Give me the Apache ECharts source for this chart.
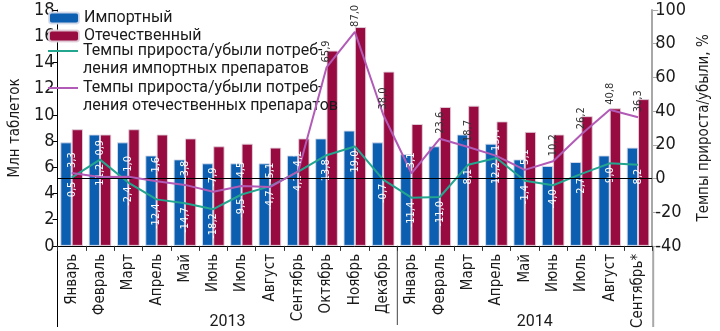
<!DOCTYPE html>
<html>
<head>
<meta charset="utf-8">
<script src="https://cdn.jsdelivr.net/npm/echarts@6/dist/echarts.min.js"></script>
<style>
  html, body { margin: 0; padding: 0; background: #fff; }
  #chart { width: 720px; height: 331px; }
</style>
</head>
<body>
<div id="chart"></div>
<script>
const categories = ['Январь','Февраль','Март','Апрель','Май','Июнь','Июль','Август','Сентябрь','Октябрь','Ноябрь','Декабрь','Январь','Февраль','Март','Апрель','Май','Июнь','Июль','Август','Сентябрь*'];
const years = ['2013', '2014'];
const yearSpans = [[0, 11], [12, 20]];
const importVals   = [7.9, 8.5, 7.9, 6.9, 6.6, 6.3, 6.3, 6.3, 6.9, 8.2, 8.8, 7.9, 7.0, 7.6, 8.5, 7.8, 6.6, 6.1, 6.4, 6.9, 7.5];
const domesticVals = [8.9, 8.5, 8.9, 8.5, 8.2, 7.6, 7.8, 7.5, 8.2, 14.9, 16.7, 13.3, 9.3, 10.6, 10.7, 9.5, 8.7, 8.5, 9.9, 10.5, 11.2];
const importGrowth   = [0.5, 11.2, -2.4, -12.4, -14.7, -18.2, -9.5, -4.7, 4.1, 13.8, 19.0, -0.7, -11.4, -11.0, 8.1, 12.2, -1.4, -4.0, 2.7, 9.0, 8.2];
const domesticGrowth = [3.3, 0.9, 1.0, -1.6, -3.8, -7.9, -4.5, -5.1, 4.2, 65.9, 87.0, 38.0, 3.1, 23.6, 18.7, 13.4, 5.1, 10.2, 26.2, 40.8, 36.3];
const leftTicks = {min: 0, max: 18, interval: 2};
const rightTicks = {min: -40, max: 100, interval: 20};
const names = ['Импортный', 'Отечественный',
  'Темпы прироста/убыли потреб-\nления импортных препаратов',
  'Темпы прироста/убыли потреб-\nления отечественных препаратов'];

const FONT = '"DejaVu Sans Condensed", "Roboto Condensed", Roboto, sans-serif';
const LFONT = 'Roboto, "Open Sans", sans-serif';
const BLUE = '#0c5fb0', RED = '#980b41', TEAL = '#22a68f', PURPLE = '#b25bb6', TXT = '#1a1a1a';
const fmt = v => v.toFixed(1).replace('.', ',');

const chart = echarts.init(document.getElementById('chart'), null, {renderer: 'canvas', width: 720, height: 331});

function buildOption(purpleColors, purpleLabelY, graphics) {
  const lgText = {fontSize: 16, lineHeight: 18, color: TXT, fontFamily: LFONT};
  const lgRich = {fontSize: 16, color: TXT, fontFamily: LFONT,
    rich: {t: {fontSize: 16, lineHeight: 18, color: TXT, fontFamily: LFONT}, s: {fontSize: 16, lineHeight: 18, height: 18}}};
  const twoLine = n => '{s| }\n' + n.split('\n').map(s => '{t|' + s + '}').join('\n');
  return {
    animation: false,
    backgroundColor: '#fff',
    grid: {left: 40, right: 47, top: 10, bottom: 85, containLabel: false},
    legend: [
      {data: [names[0], names[1]], orient: 'vertical', left: 48, top: 9, padding: 0,
       itemWidth: 30, itemHeight: 11, itemGap: 0, textStyle: lgText},
      {data: [{name: names[2], icon: 'rect'}], orient: 'vertical', left: 48, top: 24, padding: 0,
       itemWidth: 30, itemHeight: 2, textStyle: lgRich, formatter: twoLine},
      {data: [{name: names[3], icon: 'rect'}], orient: 'vertical', left: 48, top: 61, padding: 0,
       itemWidth: 30, itemHeight: 2, textStyle: lgRich, formatter: twoLine}
    ],
    xAxis: {
      type: 'category', data: categories, boundaryGap: true,
      axisLine: {lineStyle: {color: '#000', width: 1}},
      axisTick: {show: true, interval: 0, length: 5, lineStyle: {color: '#333'}},
      axisLabel: {rotate: 90, interval: 0, fontSize: 15, color: TXT, fontFamily: FONT, margin: 8}
    },
    yAxis: [
      {type: 'value', min: leftTicks.min, max: leftTicks.max, interval: leftTicks.interval,
       name: 'Млн таблеток', nameLocation: 'middle', nameGap: 24, nameRotate: 90,
       nameTextStyle: {fontSize: 15, color: TXT, fontFamily: FONT},
       axisLine: {show: true, lineStyle: {color: '#000'}},
       axisTick: {show: true, length: 5, lineStyle: {color: '#000'}},
       axisLabel: {fontSize: 18, color: TXT, fontFamily: FONT, margin: 3},
       splitLine: {show: false}},
      {type: 'value', min: rightTicks.min, max: rightTicks.max, interval: rightTicks.interval, position: 'right',
       name: 'Темпы прироста/убыли, %', nameLocation: 'middle', nameGap: 32, nameRotate: 90,
       nameTextStyle: {fontSize: 15, color: TXT, fontFamily: FONT},
       axisLine: {show: true, lineStyle: {color: '#a8a8a8', width: 2}},
       axisTick: {show: true, length: 6, lineStyle: {color: '#a8a8a8'}},
       axisLabel: {fontSize: 18, color: TXT, fontFamily: FONT, margin: 3},
       splitLine: {show: false}}
    ],
    series: [
      {name: names[0], type: 'bar', data: importVals, barGap: '0%', barCategoryGap: '20%',
       itemStyle: {color: BLUE, borderColor: 'rgba(215,220,235,0.9)', borderWidth: 1}},
      {name: names[1], type: 'bar', data: domesticVals,
       itemStyle: {color: RED, borderColor: 'rgba(225,210,220,0.9)', borderWidth: 1}},
      {name: names[2], type: 'line', yAxisIndex: 1, data: importGrowth, symbol: 'circle', symbolSize: 0, showSymbol: true, z: 4,
       lineStyle: {color: TEAL, width: 2}, itemStyle: {color: TEAL},
       label: {show: true, position: 'bottom', rotate: 90, align: 'right', verticalAlign: 'middle', distance: 4,
               color: '#fff', fontSize: 11, fontFamily: FONT, formatter: p => fmt(p.value)},
       labelLayout: {hideOverlap: false},
       markLine: {silent: true, symbol: 'none', label: {show: false},
                  lineStyle: {color: '#000', width: 1, type: 'solid'}, data: [{yAxis: 0}]}},
      {name: names[3], type: 'line', yAxisIndex: 1, symbol: 'circle', symbolSize: 0, showSymbol: true, z: 5,
       data: domesticGrowth.map((v, i) => ({value: v, label: {color: purpleColors[i]}})),
       lineStyle: {color: PURPLE, width: 2}, itemStyle: {color: PURPLE},
       label: {show: true, position: 'top', rotate: 90, align: 'left', verticalAlign: 'middle', distance: 5,
               fontSize: 11, fontFamily: FONT, formatter: p => fmt(p.value)},
       labelLayout: p => (purpleLabelY[p.dataIndex] != null ? {y: purpleLabelY[p.dataIndex], hideOverlap: false} : {hideOverlap: false})}
    ],
    graphic: graphics
  };
}

chart.setOption(buildOption(domesticGrowth.map(() => '#fff'), domesticGrowth.map(() => null), []));

// second pass: label placement/colours and separators computed from the chart's own scales
const tealPx = importGrowth.map(v => chart.convertToPixel({yAxisIndex: 1}, v));
const purplePx = domesticGrowth.map(v => chart.convertToPixel({yAxisIndex: 1}, v));
const purpleLabelY = domesticGrowth.map((v, i) => {
  const bottom = purplePx[i] - 5;
  const tealTop = tealPx[i] + 4;
  return (tealTop < bottom && tealTop + 20 > bottom - 22) ? tealPx[i] - 4 : null;
});
const purpleColors = domesticGrowth.map((v, i) => {
  const bottom = purpleLabelY[i] != null ? purpleLabelY[i] : purplePx[i] - 5;
  const blueTop = chart.convertToPixel({yAxisIndex: 0}, importVals[i]);
  return (v >= 18 || bottom < blueTop) ? '#333' : '#fff';
});
const xAt = i => chart.convertToPixel({xAxisIndex: 0}, i);
const y0 = chart.convertToPixel({yAxisIndex: 0}, 0);
const step = xAt(1) - xAt(0);
const leftX = xAt(0) - step / 2, rightX = xAt(categories.length - 1) + step / 2;
const sepX = (xAt(11) + xAt(12)) / 2;
const graphics = [
  {type: 'line', shape: {x1: leftX, y1: y0, x2: leftX, y2: 327}, style: {stroke: '#000', lineWidth: 1}},
  {type: 'line', shape: {x1: sepX, y1: y0, x2: sepX, y2: 325}, style: {stroke: '#444', lineWidth: 1}},
  {type: 'line', shape: {x1: rightX + 1, y1: y0, x2: rightX + 1, y2: 327}, style: {stroke: '#a8a8a8', lineWidth: 2}}
];
years.forEach((yr, k) => {
  const a = yearSpans[k][0], b = yearSpans[k][1];
  const cx = (xAt(a) + xAt(b)) / 2 + (k === 1 ? 10 : 0);
  graphics.push({type: 'text', x: cx, y: 322,
    style: {text: yr, fill: TXT, fontSize: 16, fontFamily: LFONT, align: 'center', verticalAlign: 'middle'}});
});
chart.setOption(buildOption(purpleColors, purpleLabelY, graphics), {replaceMerge: ['graphic']});
</script>
</body>
</html>
